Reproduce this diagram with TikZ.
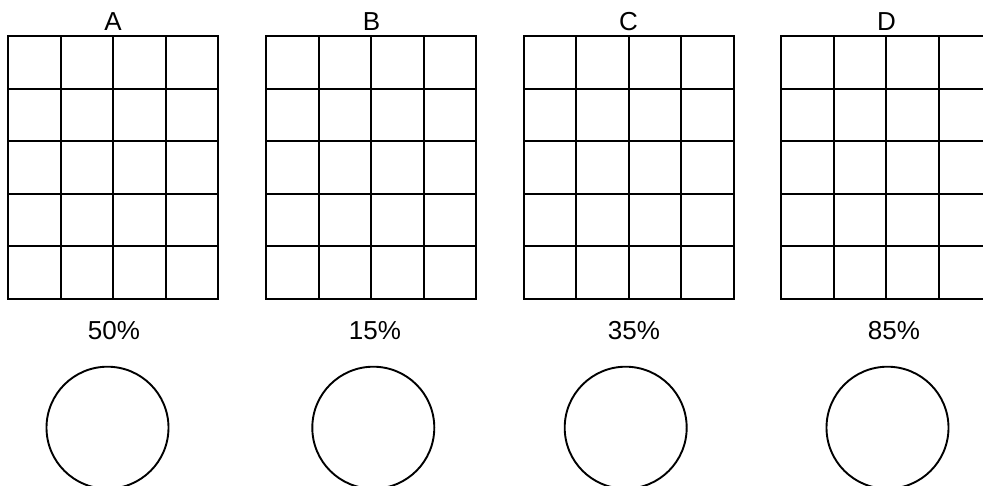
\documentclass[tikz,border=0pt]{standalone}
\usepackage{fontspec}
\setmainfont{Liberation Sans}
\begin{document}
\begin{tikzpicture}[x=1pt,y=-1pt,line width=1.9pt,
  lbl/.style={font=\fontsize{26}{30}\selectfont,anchor=base,inner sep=0pt},
  ring/.style={circle,draw,minimum size=122pt,inner sep=0pt},
  gridline/.style={line cap=rect}]
\useasboundingbox (0,0) rectangle (983,485);
\clip (0,0) rectangle (983,485);
% grids
\foreach \gx in {8,266,523.5,781} {
  \foreach \i in {0,...,4} {
    \pgfmathsetmacro{\xx}{round(\gx+52.5*\i)}
    \draw[gridline] (\xx,36) -- (\xx,299);
  }
  \foreach \j in {0,...,5} {
    \pgfmathsetmacro{\yy}{round(36+52.5*\j)}
    \pgfmathsetmacro{\xa}{round(\gx)}
    \pgfmathsetmacro{\xb}{round(\gx+210)}
    \draw[gridline] (\xa,\yy) -- (\xb,\yy);
  }
}
% titles
\node[lbl] (tA) at (113,30) {A};
\node[lbl] (tB) at (371.5,30) {B};
\node[lbl] (tC) at (628.5,30) {C};
\node[lbl] (tD) at (886.5,30) {D};
% percentages
\node[lbl] (pA) at (114,339) {50\%};
\node[lbl] (pB) at (375,339) {15\%};
\node[lbl] (pC) at (634,339) {35\%};
\node[lbl] (pD) at (894,339) {85\%};
% circles
\node[ring] (cA) at (107.5,427.7) {};
\node[ring] (cB) at (373.3,427.7) {};
\node[ring] (cC) at (625.7,427.7) {};
\node[ring] (cD) at (887.5,427.7) {};
\end{tikzpicture}
\end{document}
